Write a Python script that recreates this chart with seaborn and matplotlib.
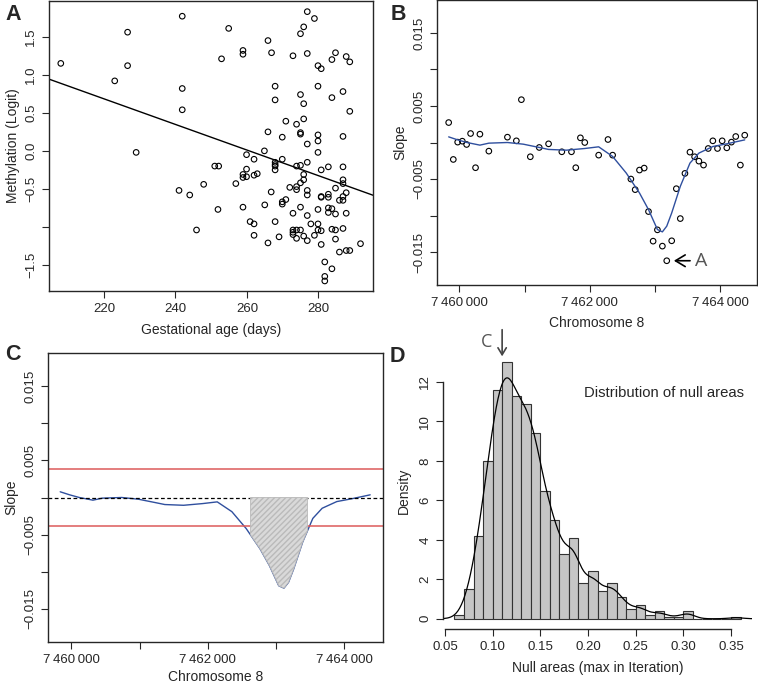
import numpy as np
import pandas as pd
import matplotlib
matplotlib.use('Agg')
import matplotlib.pyplot as plt
import seaborn as sns

# ---- panel A: methylation vs gestational age
gest_days = [207.9, 226.6, 226.6, 223.0, 229.0, 241.9, 241.9, 241.9, 241.0, 244.0,
             245.9, 247.9, 251.0, 252.1, 251.9, 252.9, 254.9, 256.9, 258.9, 258.9,
             258.9, 258.9, 258.9, 259.9, 259.9, 259.9, 260.9, 262.0, 262.0, 262.0,
             262.0, 262.9, 264.9, 265.0, 265.9, 265.9, 265.9, 266.8, 266.9, 267.9,
             267.9, 267.9, 267.9, 267.9, 267.9, 267.9, 269.0, 269.9, 269.9, 269.9,
             269.9, 270.9, 270.9, 272.0, 272.9, 272.9, 272.9, 272.9, 272.9, 273.9,
             273.9, 273.9, 273.9, 273.9, 273.9, 275.0, 275.0, 275.0, 275.0, 275.0,
             275.0, 275.0, 275.0, 275.9, 275.9, 275.9, 275.9, 275.9, 275.9, 276.9,
             276.9, 276.9, 276.9, 276.9, 276.9, 276.9, 276.9, 277.9, 278.9, 278.9,
             279.9, 279.9, 279.9, 279.9, 279.9, 279.9, 279.9, 279.9, 280.8, 280.8,
             280.8, 280.8, 280.8, 280.8, 281.8, 281.8, 281.8, 282.8, 282.8, 282.8,
             282.8, 282.8, 283.8, 283.8, 283.8, 283.8, 283.8, 284.8, 284.8, 284.8,
             284.8, 284.8, 285.9, 285.9, 286.9, 286.9, 286.9, 286.9, 286.9, 286.9,
             286.9, 286.9, 287.8, 287.8, 287.8, 287.8, 288.8, 288.8, 288.8, 291.8]
methylation = [1.15, 1.56, 1.12, 0.92, -0.02, 1.77, 0.82, 0.54, -0.52, -0.58,
               -1.04, -0.44, -0.20, -0.20, -0.77, 1.21, 1.61, -0.43, 1.32, 1.27,
               -0.74, -0.31, -0.35, -0.05, -0.24, -0.34, -0.93, -0.96, -1.11, -0.11,
               -0.32, -0.30, 0.00, -0.71, 0.25, 1.45, -1.21, -0.54, 1.29, 0.85,
               0.67, -0.15, -0.18, -0.20, -0.25, -0.93, -1.13, 0.18, -0.11, -0.67,
               -0.70, -0.64, 0.39, -0.48, 1.25, -0.82, -1.04, -1.07, -1.10, 0.35,
               -0.20, -0.47, -0.51, -1.04, -1.15, 1.54, 0.74, 0.24, 0.22, -0.19,
               -0.42, -0.74, -1.04, 1.63, 0.62, 0.42, -0.31, -0.38, -1.12, 1.83,
               1.28, 0.09, -0.15, -0.52, -0.58, -0.85, -1.18, -0.96, 1.74, -1.11,
               -0.77, -0.96, -1.04, 1.12, 0.85, 0.21, 0.13, -0.02, 1.08, -0.25,
               -0.60, -0.61, -1.05, -1.23, -1.46, -1.65, -1.71, -0.21, -0.57, -0.61,
               -0.75, -0.81, 1.20, 0.70, -0.76, -1.03, -1.55, 1.29, -0.49, -0.83,
               -1.04, -1.16, -0.65, -1.33, 0.78, 0.19, -0.21, -0.38, -0.43, -0.60,
               -0.65, -1.02, 1.24, -0.55, -0.82, -1.31, 1.17, 0.52, -1.31, -1.22]
fit_days = [204.6, 295.3]
fit_logit = [0.943, -0.583]

# ---- panels B/C: per-CpG slopes along chromosome 8
cpg_pos = [7459837, 7459908, 7459975, 7460046, 7460112, 7460173, 7460249, 7460316,
           7460453, 7460738, 7460875, 7460952, 7461089, 7461226, 7461369, 7461572,
           7461720, 7461786, 7461857, 7461924, 7462137, 7462280, 7462351, 7462631,
           7462697, 7462763, 7462835, 7462901, 7462972, 7463038, 7463114, 7463181,
           7463257, 7463328, 7463389, 7463460, 7463537, 7463608, 7463674, 7463745,
           7463817, 7463888, 7463959, 7464031, 7464102, 7464173, 7464239, 7464310,
           7464377]
cpg_slope = [0.00273, -0.00232, 0.00005, 0.00018, -0.00027, 0.00123, -0.00345, 0.00114,
             -0.00118, 0.00073, 0.00023, 0.00586, -0.00195, -0.00068, -0.00018, -0.00127,
             -0.00127, -0.00345, 0.00064, 0.00000, -0.00173, 0.00041, -0.00173, -0.00500,
             -0.00645, -0.00377, -0.00350, -0.00945, -0.01350, -0.01195, -0.01418, -0.01618,
             -0.01345, -0.00632, -0.01041, -0.00423, -0.00132, -0.00195, -0.00255, -0.00309,
             -0.00082, 0.00023, -0.00082, 0.00023, -0.00073, 0.00005, 0.00082, -0.00309,
             0.00100]
smooth_pos = [7459837, 7459975, 7460117, 7460316, 7460453, 7460738, 7460982, 7461226,
              7461369, 7461644, 7461924, 7462137, 7462351, 7462560, 7462763, 7462901,
              7463038, 7463114, 7463181, 7463257, 7463389, 7463537, 7463674, 7463888,
              7464102, 7464377]
smooth_slope = [0.00077, 0.00036, 0.00000, -0.00036, -0.00009, 0.00000, -0.00023, -0.00068,
                -0.00095, -0.00105, -0.00082, -0.00059, -0.00191, -0.00418, -0.00691, -0.00918,
                -0.01191, -0.01223, -0.01145, -0.00964, -0.00600, -0.00282, -0.00145, -0.00055,
                -0.00018, 0.00036]
threshold = 0.0038
region_bounds = [7462625, 7463458]

# ---- panel D: null distribution of areas
null_bin_left = [0.06, 0.07, 0.08, 0.09, 0.10, 0.11, 0.12, 0.13, 0.14, 0.15,
                 0.16, 0.17, 0.18, 0.19, 0.20, 0.21, 0.22, 0.23, 0.24, 0.25,
                 0.26, 0.27, 0.28, 0.29, 0.30, 0.31, 0.32, 0.33, 0.34, 0.35]
null_density = [0.2, 1.5, 4.2, 8.0, 11.6, 13.0, 11.3, 10.9, 9.4, 6.5,
                5.0, 3.3, 4.1, 1.8, 2.4, 1.4, 1.8, 1.1, 0.5, 0.7,
                0.2, 0.4, 0.1, 0.1, 0.4, 0.0, 0.0, 0.0, 0.0, 0.1]
observed_area = 0.110

sns.set_style('ticks')
plt.rcParams['font.family'] = ['Liberation Sans', 'DejaVu Sans']
plt.rcParams['axes.linewidth'] = 1.0
plt.rcParams['xtick.major.size'] = 5
plt.rcParams['ytick.major.size'] = 5
plt.rcParams['xtick.labelsize'] = 9.5
plt.rcParams['ytick.labelsize'] = 9.5
plt.rcParams['axes.labelsize'] = 10

W, H = 758, 685
fig = plt.figure(figsize=(W / 100, H / 100), dpi=100)


def px_axes(left, top, right, bottom):
    return fig.add_axes([left / W, 1 - bottom / H, (right - left) / W, (bottom - top) / H])


def rot_yticks(ax):
    for lab in ax.get_yticklabels():
        lab.set_rotation(90)
        lab.set_va('center')


chrom_ticks = [7460000, 7461000, 7462000, 7463000, 7464000]
chrom_labels = ['7\u2009460\u2009000', '', '7\u2009462\u2009000', '', '7\u2009464\u2009000']
slope_ticks = [-0.015, -0.010, -0.005, 0.0, 0.005, 0.010, 0.015]
slope_labels = ['\u22120.015', '', '\u22120.005', '', '0.005', '', '0.015']
chrom_lim = (7459658, 7464565)
slope_lim = (-0.0195, 0.0195)
blue = '#2f4f9e'
red = '#dc5a5a'

# A
axA = px_axes(49, 1, 373, 291)
sns.scatterplot(x=gest_days, y=methylation, ax=axA, marker='o', s=16,
                fc='none', ec='black', linewidth=0.8)
sns.lineplot(x=fit_days, y=fit_logit, ax=axA, color='black', linewidth=1.0)
axA.set_xlim(204.6, 295.3)
axA.set_ylim(-1.842, 1.97)
axA.set_xticks([220, 240, 260, 280])
axA.set_yticks([-1.5, -1.0, -0.5, 0.0, 0.5, 1.0, 1.5])
axA.set_yticklabels(['\u22121.5', '', '\u22120.5', '0.0', '0.5', '1.0', '1.5'])
rot_yticks(axA)
axA.set_xlabel('Gestational age (days)', labelpad=6)
axA.set_ylabel('Methylation (Logit)', labelpad=4)

# B
axB = px_axes(437, 0, 757, 285)
sns.scatterplot(x=cpg_pos, y=cpg_slope, ax=axB, marker='o', s=16,
                fc='none', ec='black', linewidth=0.8)
sns.lineplot(x=smooth_pos, y=smooth_slope, ax=axB, color=blue, linewidth=1.0)
axB.set_xlim(*chrom_lim)
axB.set_ylim(*slope_lim)
axB.set_xticks(chrom_ticks)
axB.set_xticklabels(chrom_labels)
axB.set_yticks(slope_ticks)
axB.set_yticklabels(slope_labels)
rot_yticks(axB)
axB.set_xlabel('Chromosome 8', labelpad=5)
axB.set_ylabel('Slope', labelpad=4)
axB.annotate('A', xy=(7463290, cpg_slope[31]), xytext=(7463610, cpg_slope[31]),
             ha='left', va='center', fontsize=14, color='#555555',
             family=['Open Sans', 'DejaVu Sans'],
             arrowprops=dict(arrowstyle='->,head_length=0.5,head_width=0.3',
                             color='black', lw=1.2, shrinkA=1, shrinkB=0))

# C
axC = px_axes(48, 353, 383, 642)
sns.lineplot(x=smooth_pos, y=smooth_slope, ax=axC, color=blue, linewidth=1.0)
axC.axhline(threshold, color=red, linewidth=1.1)
axC.axhline(-threshold, color=red, linewidth=1.1)
axC.axhline(0, color='black', linewidth=0.9, linestyle=(0, (3, 2)))
sx = np.array(smooth_pos, dtype=float)
sy = np.array(smooth_slope)
inside = (sx > region_bounds[0]) & (sx < region_bounds[1])
fx = np.concatenate([[region_bounds[0]], sx[inside], [region_bounds[1]]])
fy = np.interp(fx, sx, sy)
axC.fill_between(fx, fy, 0, facecolor='#d9d9d9', edgecolor='#bababa',
                 hatch='//////', linewidth=0.6, zorder=3)
axC.set_xlim(*chrom_lim)
axC.set_ylim(*slope_lim)
axC.set_xticks(chrom_ticks)
axC.set_xticklabels(chrom_labels)
axC.set_yticks(slope_ticks)
axC.set_yticklabels(slope_labels)
rot_yticks(axC)
axC.set_xlabel('Chromosome 8', labelpad=3)
axC.set_ylabel('Slope', labelpad=4)

# D
axD = px_axes(443, 352, 752, 629)
hist_df = pd.DataFrame({'area': np.array(null_bin_left) + 0.005, 'density': null_density})
edges = [round(b, 2) for b in null_bin_left] + [round(null_bin_left[-1] + 0.01, 2)]
sns.histplot(data=hist_df, x='area', weights='density', bins=edges, stat='density', ax=axD,
             color='#c6c6c6', edgecolor='#333333', linewidth=0.8, alpha=1)
kde_df = hist_df[hist_df['density'] > 0]
wmean = np.average(kde_df['area'], weights=kde_df['density'])
wsd = np.sqrt(np.average((kde_df['area'] - wmean) ** 2, weights=kde_df['density']))
sns.kdeplot(data=kde_df, x='area', weights='density', bw_method=0.0072 / wsd, ax=axD,
            color='black', linewidth=0.9, cut=3, gridsize=400)
axD.set_xlim(0.048, 0.372)
axD.set_ylim(-0.52, 13.52)
sns.despine(ax=axD)
axD.spines['left'].set_bounds(0, 12)
axD.spines['bottom'].set_bounds(0.05, 0.35)
axD.set_xticks([0.05, 0.10, 0.15, 0.20, 0.25, 0.30, 0.35])
axD.set_xticklabels(['0.05', '0.10', '0.15', '0.20', '0.25', '0.30', '0.35'])
axD.set_yticks([0, 2, 4, 6, 8, 10, 12])
rot_yticks(axD)
axD.set_xlabel('Null areas (max in Iteration)', labelpad=6)
axD.set_ylabel('Density', labelpad=6)
axD.text(0.364, 11.46, 'Distribution of null areas', ha='right', va='center', fontsize=10.7)
axD.annotate('', xy=(observed_area, 13.3), xytext=(observed_area, 14.65),
             annotation_clip=False,
             arrowprops=dict(arrowstyle='->,head_length=0.5,head_width=0.3',
                             color='#444444', lw=1.2, shrinkA=0, shrinkB=0))
axD.text(0.0935, 14.05, 'C', ha='center', va='center', fontsize=13, color='#555555',
         family=['Open Sans', 'DejaVu Sans'], clip_on=False)

for lab, x, y in [('A', 13, 14), ('B', 398, 14), ('C', 13, 355), ('D', 397, 356)]:
    fig.text(x / W, 1 - y / H, lab, fontsize=15.5, fontweight='bold', ha='center', va='center')

fig.savefig('out.png', dpi=100)
